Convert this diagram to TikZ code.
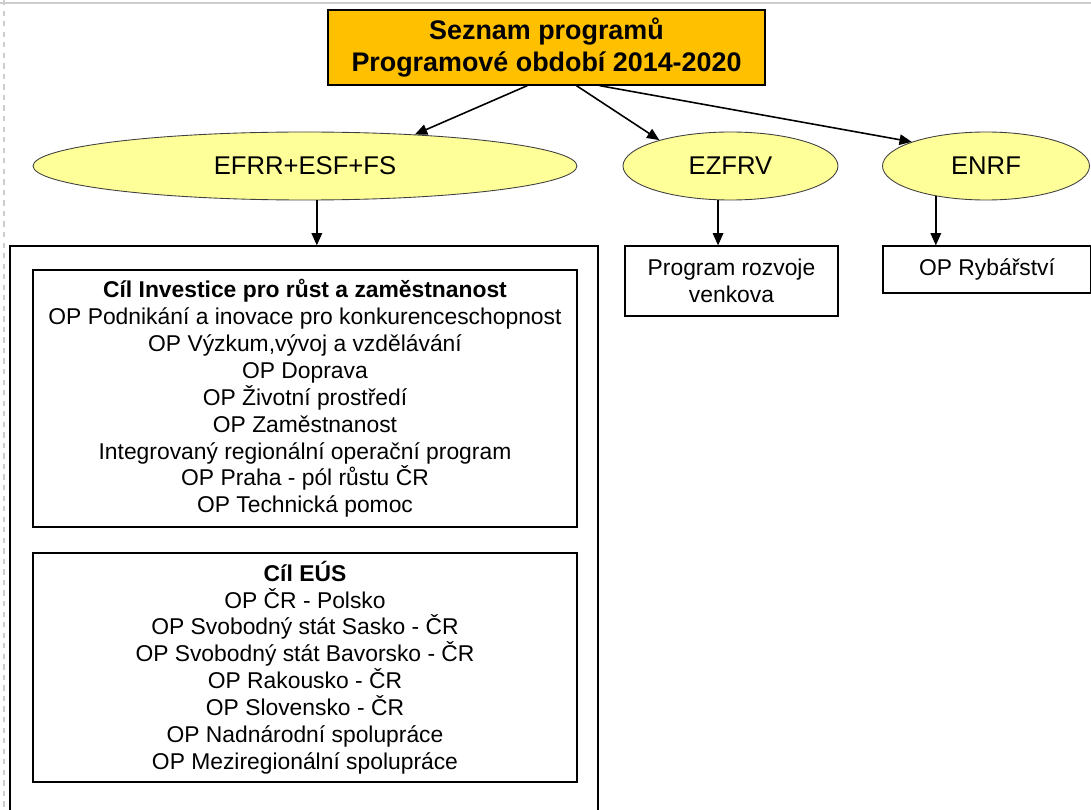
\documentclass[tikz,border=0pt]{standalone}
\usepackage{fontspec}
\setmainfont{Liberation Sans}
\usetikzlibrary{shapes.geometric,arrows.meta}
\definecolor{gold}{RGB}{255,192,0}
\definecolor{paleyellow}{RGB}{255,255,153}
\definecolor{slidegray}{RGB}{205,205,205}
\begin{document}
\begin{tikzpicture}[
  fund/.style={ellipse, draw=black!75, fill=paleyellow, line width=0.5pt,
    minimum height=1.36cm, inner sep=0pt, font=\fontsize{14.6}{17}\selectfont},
  prog/.style={draw, rectangle, line width=0.7pt, align=center, inner sep=0pt,
    font=\fontsize{13}{15.3}\selectfont},
  arr/.style={-{Triangle[length=7pt,width=6pt]}, line width=0.9pt}
]
\useasboundingbox (0,0) rectangle (21.82,-16.2);
\clip (0,0) rectangle (21.82,-16.2);

% slide frame
\draw[slidegray, line width=0.6pt] (0,-0.06) -- (21.82,-0.06);
\draw[slidegray, line width=0.8pt, dashed] (0.08,0) -- (0.08,-16.2);

\node (list) at (10.93,-0.95) [draw, fill=gold, line width=0.7pt, align=center,
  minimum width=8.74cm, minimum height=1.5cm, inner sep=0pt,
  font=\fontsize{15.3}{18.7}\selectfont\bfseries]
  {Seznam programů\\Programové období 2014-2020};

\node (efrr)  at ( 6.10,-3.32) [fund, minimum width=10.88cm] {EFRR+ESF+FS};
\node (ezfrv) at (14.61,-3.32) [fund, minimum width=4.30cm] {EZFRV};
\node (enrf)  at (19.72,-3.32) [fund, minimum width=4.14cm] {ENRF};

\node (cohesion) at (6.08,-10.76) [prog, minimum width=11.76cm, minimum height=11.68cm] {};
\node (growth) at (6.10,-7.97) [prog, minimum width=10.88cm, minimum height=5.14cm]
  {\textbf{Cíl Investice pro růst a zaměstnanost}\\
   OP Podnikání a inovace pro konkurenceschopnost\\
   OP Výzkum,vývoj a vzdělávání\\
   OP Doprava\\
   OP Životní prostředí\\
   OP Zaměstnanost\\
   Integrovaný regionální operační program\\
   OP Praha - pól růstu ČR\\
   OP Technická pomoc};
\node (etc) at (6.10,-13.35) [prog, minimum width=10.88cm, minimum height=4.58cm]
  {\textbf{Cíl EÚS}\\
   OP ČR - Polsko\\
   OP Svobodný stát Sasko - ČR\\
   OP Svobodný stát Bavorsko - ČR\\
   OP Rakousko - ČR\\
   OP Slovensko - ČR\\
   OP Nadnárodní spolupráce\\
   OP Meziregionální spolupráce};

\node (rural) at (14.63,-5.62) [prog, minimum width=4.26cm, minimum height=1.40cm]
  {Program rozvoje\\venkova};
\node (fish) at (19.74,-5.39) [prog, minimum width=4.16cm, minimum height=0.94cm]
  {OP Rybářství};

\path % arrow starts
 (list.south west) +(4.00,0) coordinate (sefrr)
    +(4.98,0) coordinate (sezfrv)
    +(5.44,0) coordinate (senrf)
    ;
\draw[arr] (sefrr) -- (efrr.16);
\draw[arr] (sezfrv) -- (ezfrv.160);
\draw[arr] (senrf) -- (enrf.162);

\draw[arr] (efrr.289) -- (efrr.289 |- cohesion.north);
\draw[arr] (ezfrv.250) -- (ezfrv.250 |- rural.north);
\draw[arr] (enrf.211) -- (enrf.211 |- fish.north);

\end{tikzpicture}
\end{document}
